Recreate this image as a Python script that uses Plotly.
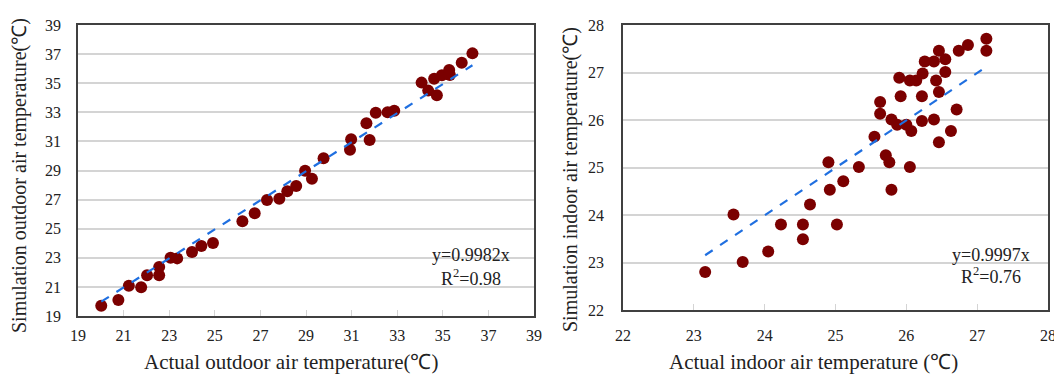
import plotly.graph_objects as go

# ---- Data ----
outdoor_actual = [20.02, 20.77, 21.23, 21.77, 22.03, 22.56, 22.56, 23.06, 23.35, 24.00,
                  24.41, 24.92, 26.21, 26.75, 27.29, 27.83, 28.18, 28.57, 28.96, 29.26,
                  29.77, 30.93, 30.98, 31.65, 31.79, 32.06, 32.58, 32.87, 34.07, 34.36,
                  34.62, 34.74, 34.96, 35.28, 35.31, 35.83, 36.30]
outdoor_sim = [19.71, 20.10, 21.08, 20.97, 21.80, 22.37, 21.80, 23.01, 22.96, 23.40,
               23.81, 24.02, 25.51, 26.06, 26.97, 27.06, 27.57, 27.93, 28.99, 28.44,
               29.84, 30.43, 31.14, 32.24, 31.10, 32.97, 33.00, 33.11, 35.04, 34.49,
               35.31, 34.17, 35.54, 35.91, 35.56, 36.41, 37.05]

indoor_actual = [23.16, 23.56, 23.69, 24.05, 24.23, 24.54, 24.54, 24.64, 24.90, 24.92,
                 25.02, 25.11, 25.33, 25.55, 25.63, 25.63, 25.71, 25.76, 25.79, 25.79,
                 25.87, 25.90, 25.92, 26.00, 26.05, 26.07, 26.05, 26.14, 26.22, 26.22,
                 26.23, 26.26, 26.39, 26.39, 26.42, 26.46, 26.46, 26.46, 26.55, 26.55,
                 26.63, 26.71, 26.74, 26.87, 27.13, 27.13]
indoor_sim = [22.80, 24.01, 23.01, 23.23, 23.80, 23.80, 23.49, 24.22, 25.11, 24.53,
              23.80, 24.71, 25.01, 25.65, 26.38, 26.13, 25.26, 25.11, 24.53, 26.01,
              25.90, 26.89, 26.50, 25.90, 25.01, 25.77, 26.83, 26.83, 25.98, 26.50,
              26.98, 27.23, 27.23, 26.01, 26.83, 26.59, 25.53, 27.46, 27.01, 27.28,
              25.77, 26.22, 27.46, 27.58, 27.71, 27.46]

outdoor_slope = 0.9982
outdoor_r2 = 0.98
indoor_slope = 0.9997
indoor_r2 = 0.76

left_ticks = list(range(19, 40, 2))
right_ticks = list(range(22, 29, 1))

left_xtitle = "Actual outdoor air temperature(℃)"
left_ytitle = "Simulation outdoor air temperature(℃)"
right_xtitle = "Actual indoor air temperature (℃)"
right_ytitle = "Simulation indoor air temperature(℃)"

# ---- Styling ----
FONT = "Liberation Serif, Times New Roman, serif"
MARKER_COLOR = "#7b0000"
TREND_COLOR = "#1f6fe0"
GRID = "#d4d4d4"
BORDER = "#404040"
TEXT = "#222"

fig = go.Figure()

# Left scatter
fig.add_trace(go.Scatter(x=outdoor_actual, y=outdoor_sim, mode="markers",
                         marker=dict(color=MARKER_COLOR, size=12),
                         xaxis="x", yaxis="y", showlegend=False))
lx = [min(outdoor_actual), max(outdoor_actual)]
fig.add_trace(go.Scatter(x=lx, y=[outdoor_slope * v for v in lx], mode="lines",
                         line=dict(color=TREND_COLOR, width=2.2, dash="dash"),
                         xaxis="x", yaxis="y", showlegend=False))

# Right scatter
fig.add_trace(go.Scatter(x=indoor_actual, y=indoor_sim, mode="markers",
                         marker=dict(color=MARKER_COLOR, size=12),
                         xaxis="x2", yaxis="y2", showlegend=False))
rx = [min(indoor_actual), max(indoor_actual)]
fig.add_trace(go.Scatter(x=rx, y=[indoor_slope * v for v in rx], mode="lines",
                         line=dict(color=TREND_COLOR, width=2.2, dash="dash"),
                         xaxis="x2", yaxis="y2", showlegend=False))

# The page body has an 8px margin, so the figure starts at (8, 8) in the window.
OFF = 8
W, H = 1062 - OFF, 380 - OFF

def px_x(p):
    return (p - OFF) / W

def px_y(p):
    return (H - (p - OFF)) / H

def dom_x(a, b):
    return [px_x(a), px_x(b)]

def dom_y(top, bottom):
    return [px_y(bottom), px_y(top)]

common_axis = dict(showline=True, linecolor=BORDER, linewidth=1.6, mirror=True,
                   zeroline=False, automargin=False,
                   tickfont=dict(family=FONT, size=16, color=TEXT))

fig.update_layout(
    width=W, height=H, autosize=False,
    margin=dict(l=0, r=0, t=0, b=0, pad=0),
    paper_bgcolor="white", plot_bgcolor="white",
    font=dict(family=FONT, color=TEXT),
    xaxis=dict(domain=dom_x(78, 534), range=[19, 39], tickvals=left_ticks,
               showgrid=False, ticks="inside", ticklen=6, tickcolor=GRID, tickwidth=1.2,
               ticklabelstandoff=4, anchor="y", **common_axis),
    yaxis=dict(domain=dom_y(25, 316), range=[19, 39], tickvals=left_ticks,
               showgrid=True, gridcolor=GRID, gridwidth=1.5, ticks="",
               ticklabelstandoff=12, anchor="x", **common_axis),
    xaxis2=dict(domain=dom_x(623, 1048), range=[22, 28], tickvals=right_ticks,
                showgrid=False, ticks="inside", ticklen=6, tickcolor=GRID, tickwidth=1.2,
                ticklabelstandoff=10, anchor="y2", **common_axis),
    yaxis2=dict(domain=dom_y(25, 310), range=[22, 28], tickvals=right_ticks,
                showgrid=True, gridcolor=GRID, gridwidth=1.5, ticks="",
                ticklabelstandoff=14, anchor="x2", **common_axis),
)

def text_at(x, y, text, size, angle=0):
    fig.add_annotation(x=px_x(x), y=px_y(y), xref="paper", yref="paper",
                       xanchor="center", yanchor="middle", showarrow=False,
                       text=text, textangle=angle,
                       font=dict(family=FONT, size=size, color=TEXT))

# Axis titles
text_at(291, 362, left_xtitle, 21)
text_at(19, 176, left_ytitle, 20, -90)
text_at(813, 362, right_xtitle, 21)
text_at(570, 180, right_ytitle, 20, -90)

# Regression equations
text_at(471, 255, f"y={outdoor_slope}x", 18)
text_at(471, 277, f"R<sup>2</sup>={outdoor_r2}", 18)
text_at(991, 255, f"y={indoor_slope}x", 18)
text_at(991, 275, f"R<sup>2</sup>={indoor_r2}", 18)

fig.write_html("out.html")
